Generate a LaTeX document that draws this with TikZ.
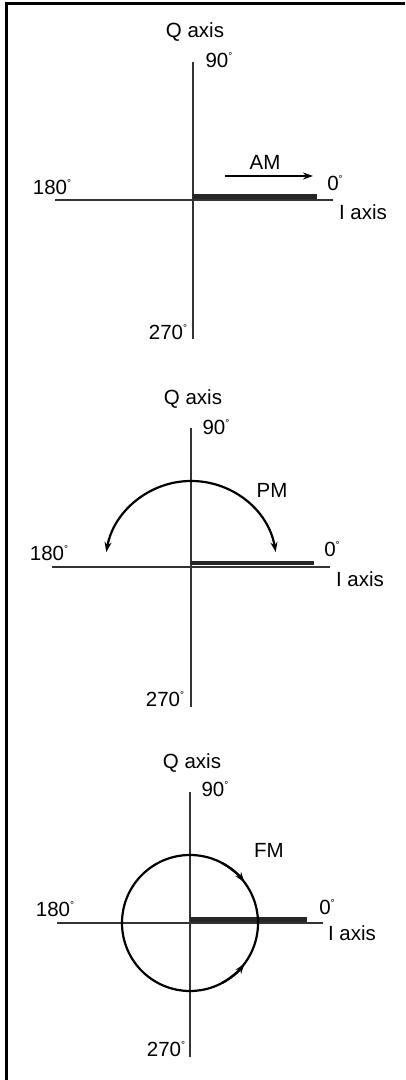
\documentclass[tikz,border=0pt]{standalone}
\usepackage{fontspec}
\setmainfont{Liberation Sans}
\usetikzlibrary{arrows.meta}
\newcommand{\dgr}{\raisebox{0.4em}{\fontsize{10}{10}\selectfont °}}
\begin{document}
\begin{tikzpicture}[x=1pt,y=1pt]
    \tikzstyle{lbl}=[inner sep=0pt, text height=14.5pt, text depth=0pt, font=\fontsize{20.5}{24}\selectfont]
    \tikzstyle{ax}=[line width=1.6pt, black!80]
    \tikzstyle{bar}=[line width=4.8pt, black!85]
    \tikzstyle{mv}=[line width=2.2pt, -{Stealth[length=10pt,width=7pt]}]
    \useasboundingbox (0,0) rectangle (405,1080);
    \coordinate (fb) at (6.3,0);
    \coordinate (fc) at (6.3,1076);
    \coordinate (fr) at (405,1076);
    \draw[line width=3pt] (fb) -- (fc) -- (fr);
    % AM
    \coordinate (o1) at (193,880);
    \coordinate (n1) at (193,1018); \coordinate (s1) at (193,741);
    \coordinate (w1) at (55,880); \coordinate (e1) at (333,880);
    \coordinate (b1a) at (193,883.5); \coordinate (b1b) at (317,883.5);
    \coordinate (am1) at (225,904); \coordinate (am2) at (313,904);
    \draw[ax] (n1) -- (s1); \draw[ax] (w1) -- (e1);
    \draw[bar] (b1a) -- (b1b);
    \draw[mv] (am1) -- (am2);
    \node[lbl] (q1) at (195,1050) {Q axis};
    \node[lbl] (d90a) at (219,1020) {90\dgr};
    \node[lbl] (d0a) at (335,897) {0\dgr};
    \node[lbl] (i1) at (363,868) {I axis};
    \node[lbl] (d180a) at (52,893) {180\dgr};
    \node[lbl] (d270a) at (168,748) {270\dgr};
    \node[lbl] (am) at (265,918) {AM};
    % PM
    \coordinate (o2) at (191,513);
    \coordinate (n2) at (191,652); \coordinate (s2) at (191,373);
    \coordinate (w2) at (52,513); \coordinate (e2) at (330,513);
    \coordinate (b2a) at (191,517); \coordinate (b2b) at (314,517);
    \coordinate (pm1) at ([shift={(10:86)}]o2);
    \draw[ax] (n2) -- (s2); \draw[ax] (w2) -- (e2);
    \draw[bar] (b2a) -- (b2b);
    \draw[mv, {Stealth[length=10pt,width=7pt]}-{Stealth[length=10pt,width=7pt]}] (pm1) arc[start angle=10, end angle=170, radius=86];
    \node[lbl] (q2) at (193,683) {Q axis};
    \node[lbl] (d90b) at (216,653) {90\dgr};
    \node[lbl] (d0b) at (332,531) {0\dgr};
    \node[lbl] (i2) at (360,501) {I axis};
    \node[lbl] (d180b) at (49,527) {180\dgr};
    \node[lbl] (d270b) at (165,381) {270\dgr};
    \node[lbl] (pm) at (272,590) {PM};
    % FM
    \coordinate (o3) at (190,157);
    \coordinate (n3) at (190,288); \coordinate (s3) at (190,23);
    \coordinate (w3) at (57,157); \coordinate (e3) at (323,157);
    \coordinate (b3a) at (190,160.5); \coordinate (b3b) at (307,160.5);
    \coordinate (fm1) at ([shift={(62:68)}]o3);
    \coordinate (fm2) at ([shift={(-62:68)}]o3);
    \draw[ax] (n3) -- (s3); \draw[ax] (w3) -- (e3);
    \draw[bar] (b3a) -- (b3b);
    \draw[line width=2.2pt] (o3) circle[radius=68];
    \draw[mv] (fm1) arc[start angle=62, end angle=37, radius=68];
    \draw[mv] (fm2) arc[start angle=-62, end angle=-37, radius=68];
    \node[lbl] (q3) at (192,319) {Q axis};
    \node[lbl] (d90c) at (215,291) {90\dgr};
    \node[lbl] (d0c) at (327,173) {0\dgr};
    \node[lbl] (i3) at (352,147) {I axis};
    \node[lbl] (d180c) at (55,171) {180\dgr};
    \node[lbl] (d270c) at (166,31) {270\dgr};
    \node[lbl] (fm) at (269,230) {FM};
  \end{tikzpicture}
\end{document}
